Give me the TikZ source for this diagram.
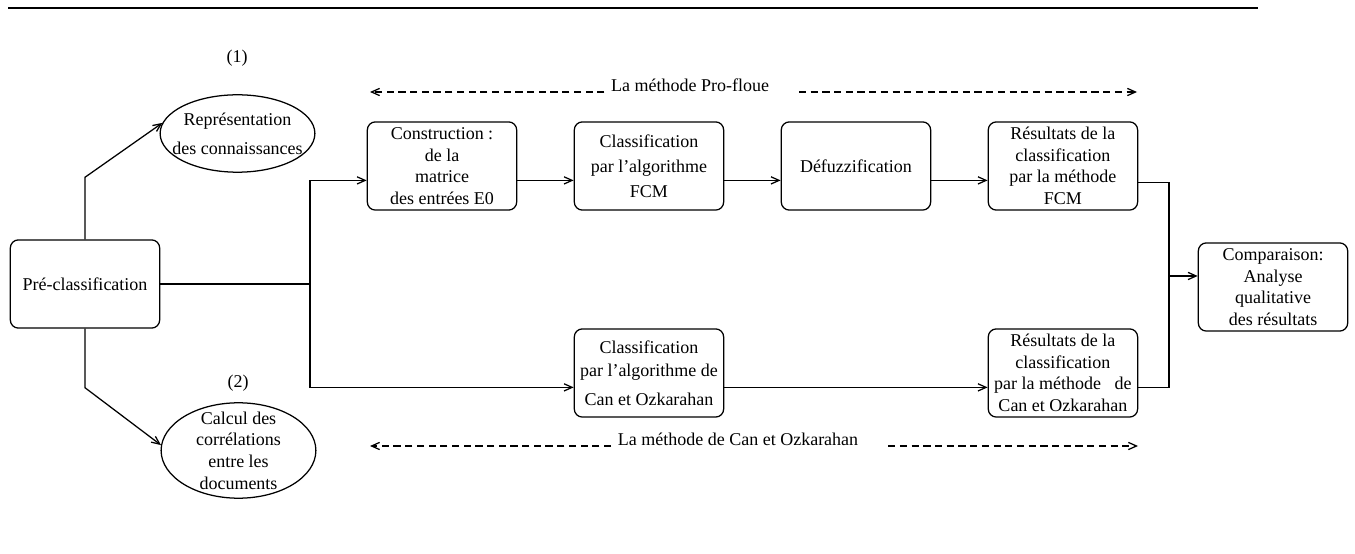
\documentclass[tikz,border=0pt]{standalone}
\usepackage{fontspec}
\setmainfont{Liberation Serif}
\usetikzlibrary{shapes.geometric,arrows.meta,calc}
\tikzstyle{process} = [rectangle, rounded corners=4.5pt, minimum width=83pt, minimum height=49pt, inner sep=1pt, text centered, align=center, draw=black]
\tikzstyle{topic} = [ellipse, minimum width=86pt, minimum height=43pt, inner sep=-6pt, align=center, draw=black]
\tikzstyle{arrow} = [->,>={Straight Barb[length=4.5pt,width=4pt]}]
\tikzstyle{methodarrow} = [arrow, dash pattern=on 4pt off 2.5pt]
\begin{document}
\begin{tikzpicture}[x=0.5556pt, y=-0.5556pt, node distance=115pt, line width=0.7pt]
      \useasboundingbox (0,0) rectangle (1355,554);
      \draw (8,8) -- (1258,8);
      \node (pre)[process] at (85,284) {Pré-classification};
      \node (e1)[topic] at (237.5,133.5) {Représentation\\[4pt]des connaissances};
      \node (e2)[topic, minimum height=53pt] at (238.5,450.5) {Calcul des\\corrélations\\entre les\\documents};
      \node (k1) at (237,58) {(1)};
      \node (k2) at (238,383) {(2)};
      \node (cons)[process] at (442,166) {Construction :\\de la\\matrice\\des entrées E0};
      \node (fcm)[process, right of=cons] {Classification\\[2pt]par l'algorithme\\[2pt]FCM};
      \node (defuz)[process, right of=fcm] {Défuzzification};
      \node (resf)[process, right of=defuz] {Résultats de la\\classification\\par la méthode\\FCM};
      \node (cancl)[process, below of=fcm] {Classification\\[1pt]par l'algorithme de\\[4pt]Can et Ozkarahan};
      \node (resc)[process, below of=resf] {Résultats de la\\classification\\par la méthode\ \ \ de\\Can et Ozkarahan};
      \node (comp)[process] at (1273,287) {Comparaison:\\Analyse\\qualitative\\des résultats};
      % the two methods
      \node (pf)[anchor=base] at (690,92) {La méthode Pro-floue};
      \node (cz)[anchor=base] at (738,446) {La méthode de Can et Ozkarahan};
      \coordinate (pfL) at (370,92);
      \coordinate (pfR) at (1137,92);
      \coordinate (czL) at (370,446);
      \coordinate (czR) at (1138,446);
      \draw [methodarrow](pf.base west) -- (pfL);
      \draw [methodarrow]([xshift=13pt]pf.base east) -- (pfR);
      \draw [methodarrow](cz.base west) -- (czL);
      \draw [methodarrow]([xshift=13pt]cz.base east) -- (czR);
      % connectors
      \coordinate (split) at (310,284);
      \coordinate (merge) at (1169,276);
      \draw [arrow](pre.north) -- ++(0,-62) -- (e1.172);
      \draw [arrow](pre.south) -- ++(0,59) -- (e2.176);
      \draw (pre.east) -- (split);
      \draw [arrow](split) |- ([yshift=-8pt]cons.west);
      \draw [arrow](split) |- ([yshift=-8pt]cancl.west);
      \draw [arrow]([yshift=-8pt]cons.east) -- ([yshift=-8pt]fcm.west);
      \draw [arrow]([yshift=-8pt]fcm.east) -- ([yshift=-8pt]defuz.west);
      \draw [arrow]([yshift=-8pt]defuz.east) -- ([yshift=-8pt]resf.west);
      \draw [arrow]([yshift=-8pt]cancl.east) -- ([yshift=-8pt]resc.west);
      \draw ([yshift=-9pt]resf.east) -| (merge);
      \draw ([yshift=-8pt]resc.east) -| (merge);
      \draw [arrow](merge) -- (merge -| comp.west);
\end{tikzpicture}
\end{document}
